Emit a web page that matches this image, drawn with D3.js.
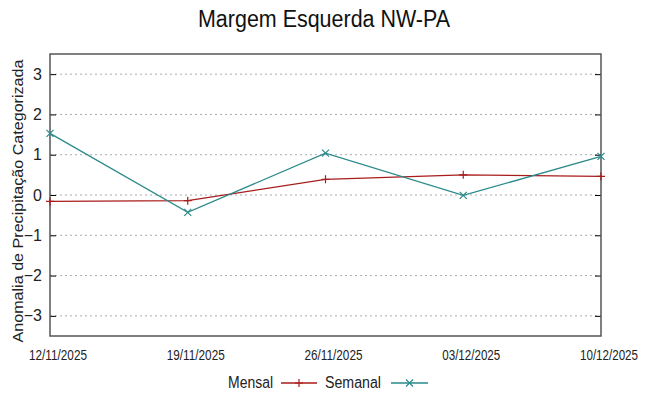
<!DOCTYPE html>
<html><head><meta charset="utf-8">
<script src="https://cdn.jsdelivr.net/npm/d3@7"></script>
<style>body{margin:0;background:#fff}svg{display:block}</style>
</head><body>
<script>
const dates = ["12/11/2025","19/11/2025","26/11/2025","03/12/2025","10/12/2025"];
const mensal = [-0.16, -0.14, 0.39, 0.50, 0.46];
const semanal = [1.53, -0.43, 1.04, -0.01, 0.96];
const yTicks = [-3,-2,-1,0,1,2,3];
const title = "Margem Esquerda NW-PA";
const yLabel = "Anomalia de Precipitação Categorizada";

const W = 649, H = 396;
const m = {l:50, r:48, t:54, b:60};
const svg = d3.select("body").append("svg").attr("width",W).attr("height",H);
const x = d3.scalePoint().domain(dates).range([m.l, W-m.r]);
const y = d3.scaleLinear().domain([-3.5,3.5]).range([H-m.b, m.t]);
const font = "'Liberation Sans', Arial, sans-serif";

// grid
svg.append("g").selectAll("line").data(yTicks).join("line")
  .attr("x1",m.l).attr("x2",W-m.r).attr("y1",d=>y(d)).attr("y2",d=>y(d))
  .attr("stroke","#aaa").attr("stroke-width",1).attr("stroke-dasharray","2,3");

// y axis ticks
const ya = svg.append("g").attr("transform",`translate(${m.l},0)`)
  .call(d3.axisLeft(y).tickValues(yTicks).tickSize(-6).tickPadding(8).tickFormat(d3.format("d")));
ya.select(".domain").remove();
ya.selectAll("line").attr("stroke","#000");
ya.selectAll("text").attr("font-family",font).attr("font-size",16).attr("fill","#222");
const yr = svg.append("g").attr("transform",`translate(${W-m.r},0)`)
  .call(d3.axisRight(y).tickValues(yTicks).tickSize(-6).tickFormat(""));
yr.select(".domain").remove();
yr.selectAll("line").attr("stroke","#000");

// x axis labels
const xa = svg.append("g").attr("transform",`translate(7.5,${H-m.b})`)
  .call(d3.axisBottom(x).tickSize(0).tickPadding(14));
xa.select(".domain").remove();
xa.selectAll("text").attr("font-family",font)
  .attr("font-size",14).attr("fill","#222")
  .attr("textLength",58).attr("lengthAdjust","spacingAndGlyphs");

// frame
svg.append("rect").attr("x",m.l).attr("y",m.t).attr("width",W-m.l-m.r).attr("height",H-m.t-m.b)
  .attr("fill","none").attr("stroke","#555").attr("stroke-width",1.5);

const cM = "#a81c1c", cS = "#2a8a8a";
const line = d3.line().x((d,i)=>x(dates[i])).y(d=>y(d));
svg.append("path").datum(mensal).attr("d",line).attr("fill","none").attr("stroke",cM).attr("stroke-width",1.3);
svg.append("path").datum(semanal).attr("d",line).attr("fill","none").attr("stroke",cS).attr("stroke-width",1.3);

function plus(g, cx, cy, c){ g.append("path").attr("d",`M${cx-4},${cy}H${cx+4}M${cx},${cy-4}V${cy+4}`).attr("stroke",c).attr("stroke-width",1.2); }
function cross(g, cx, cy, c){ g.append("path").attr("d",`M${cx-3.5},${cy-3.5}L${cx+3.5},${cy+3.5}M${cx-3.5},${cy+3.5}L${cx+3.5},${cy-3.5}`).attr("stroke",c).attr("stroke-width",1.2); }
const mk = svg.append("g");
mensal.forEach((v,i)=>plus(mk, x(dates[i]), y(v), cM));
semanal.forEach((v,i)=>cross(mk, x(dates[i]), y(v), cS));

// title
svg.append("text").attr("x",324).attr("y",27).attr("text-anchor","middle")
  .attr("font-family",font).attr("font-size",23).attr("fill","#111")
  .attr("textLength",252).attr("lengthAdjust","spacingAndGlyphs").text(title);

// y label
svg.append("text").attr("transform",`translate(23,201) rotate(-90)`).attr("text-anchor","middle")
  .attr("font-family",font).attr("font-size",15.5).attr("fill","#222")
  .attr("textLength",283).attr("lengthAdjust","spacingAndGlyphs").text(yLabel);

// legend
const lg = svg.append("g").attr("font-family",font).attr("font-size",16).attr("fill","#222");
lg.append("text").attr("x",228).attr("y",388).attr("textLength",45).attr("lengthAdjust","spacingAndGlyphs").text("Mensal");
lg.append("line").attr("x1",281).attr("x2",317).attr("y1",383).attr("y2",383).attr("stroke",cM).attr("stroke-width",1.3);
plus(lg, 299, 383, cM);
lg.append("text").attr("x",325).attr("y",388).attr("textLength",56).attr("lengthAdjust","spacingAndGlyphs").text("Semanal");
lg.append("line").attr("x1",391).attr("x2",428).attr("y1",383).attr("y2",383).attr("stroke",cS).attr("stroke-width",1.3);
cross(lg, 409.5, 383, cS);
</script>
</body></html>
